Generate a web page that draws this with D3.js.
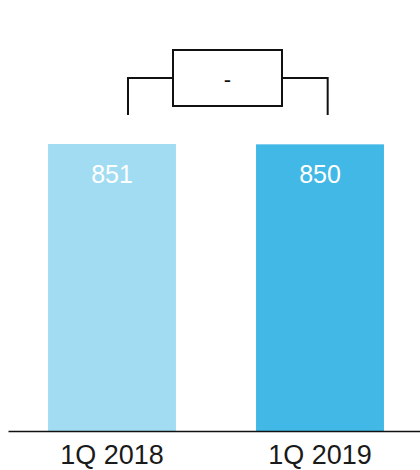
<!DOCTYPE html>
<html>
<head>
<meta charset="utf-8">
<script src="https://cdn.jsdelivr.net/npm/d3@7"></script>
<style>
  html, body { margin: 0; padding: 0; background: #fff; }
  svg { display: block; }
</style>
</head>
<body>
<svg id="chart" width="420" height="470"></svg>
<script>
// Quarterly figures
const categories = ["1Q 2018", "1Q 2019"];
const values = [851, 850];
const barColors = ["#A2DCF2", "#41B8E5"];
const changeLabel = "-";

const svg = d3.select("#chart");
const baseY = 431;

const x = d3.scaleBand()
  .domain(categories)
  .range([8, 424])
  .paddingInner(0.385)
  .paddingOuter(0.1925);

const y = d3.scaleLinear()
  .domain([0, 851])
  .range([baseY, 144]);

// Bars
svg.selectAll("rect.bar")
  .data(categories)
  .join("rect")
  .attr("class", "bar")
  .attr("x", d => x(d))
  .attr("width", x.bandwidth())
  .attr("y", (d, i) => y(values[i]))
  .attr("height", (d, i) => baseY - y(values[i]))
  .attr("fill", (d, i) => barColors[i]);

// Value labels inside bars
svg.selectAll("text.val")
  .data(categories)
  .join("text")
  .attr("class", "val")
  .attr("x", d => x(d) + x.bandwidth() / 2)
  .attr("y", (d, i) => y(values[i]) + 39)
  .attr("text-anchor", "middle")
  .attr("fill", "#fff")
  .attr("font-family", "Liberation Sans, Arial, sans-serif")
  .attr("font-size", 25)
  .text((d, i) => values[i]);

// Baseline axis with category labels
const axis = d3.axisBottom(x).tickSize(0).tickPadding(0);
const gAxis = svg.append("g")
  .attr("transform", `translate(0,${baseY})`)
  .call(axis);
gAxis.select(".domain")
  .attr("d", "M8.5,0.5H420")
  .attr("stroke", "#111")
  .attr("stroke-width", 1.6);
gAxis.selectAll(".tick text")
  .attr("dy", 0)
  .attr("y", 33)
  .attr("fill", "#1a1a1a")
  .attr("font-family", "Liberation Sans, Arial, sans-serif")
  .attr("font-size", 27);

// Change bracket linking the two bars
const bw = x.bandwidth();
const leftX = x(categories[0]) + bw * 0.625;
const rightX = x(categories[1]) + bw * 0.56;
const armY = 78, legY = 115;
const boxL = 173, boxR = 282, boxT = 50, boxB = 106;
const bracket = svg.append("g")
  .attr("fill", "none")
  .attr("stroke", "#111")
  .attr("stroke-width", 2);
bracket.append("path")
  .attr("d", `M${leftX},${legY}V${armY}H${boxL}`);
bracket.append("path")
  .attr("d", `M${boxR},${armY}H${rightX}V${legY}`);
bracket.append("rect")
  .attr("x", boxL).attr("y", boxT)
  .attr("width", boxR - boxL).attr("height", boxB - boxT);

svg.append("text")
  .attr("x", (boxL + boxR) / 2)
  .attr("y", 87)
  .attr("text-anchor", "middle")
  .attr("fill", "#111")
  .attr("font-family", "Liberation Sans, Arial, sans-serif")
  .attr("font-size", 22)
  .text(changeLabel);
</script>
</body>
</html>
